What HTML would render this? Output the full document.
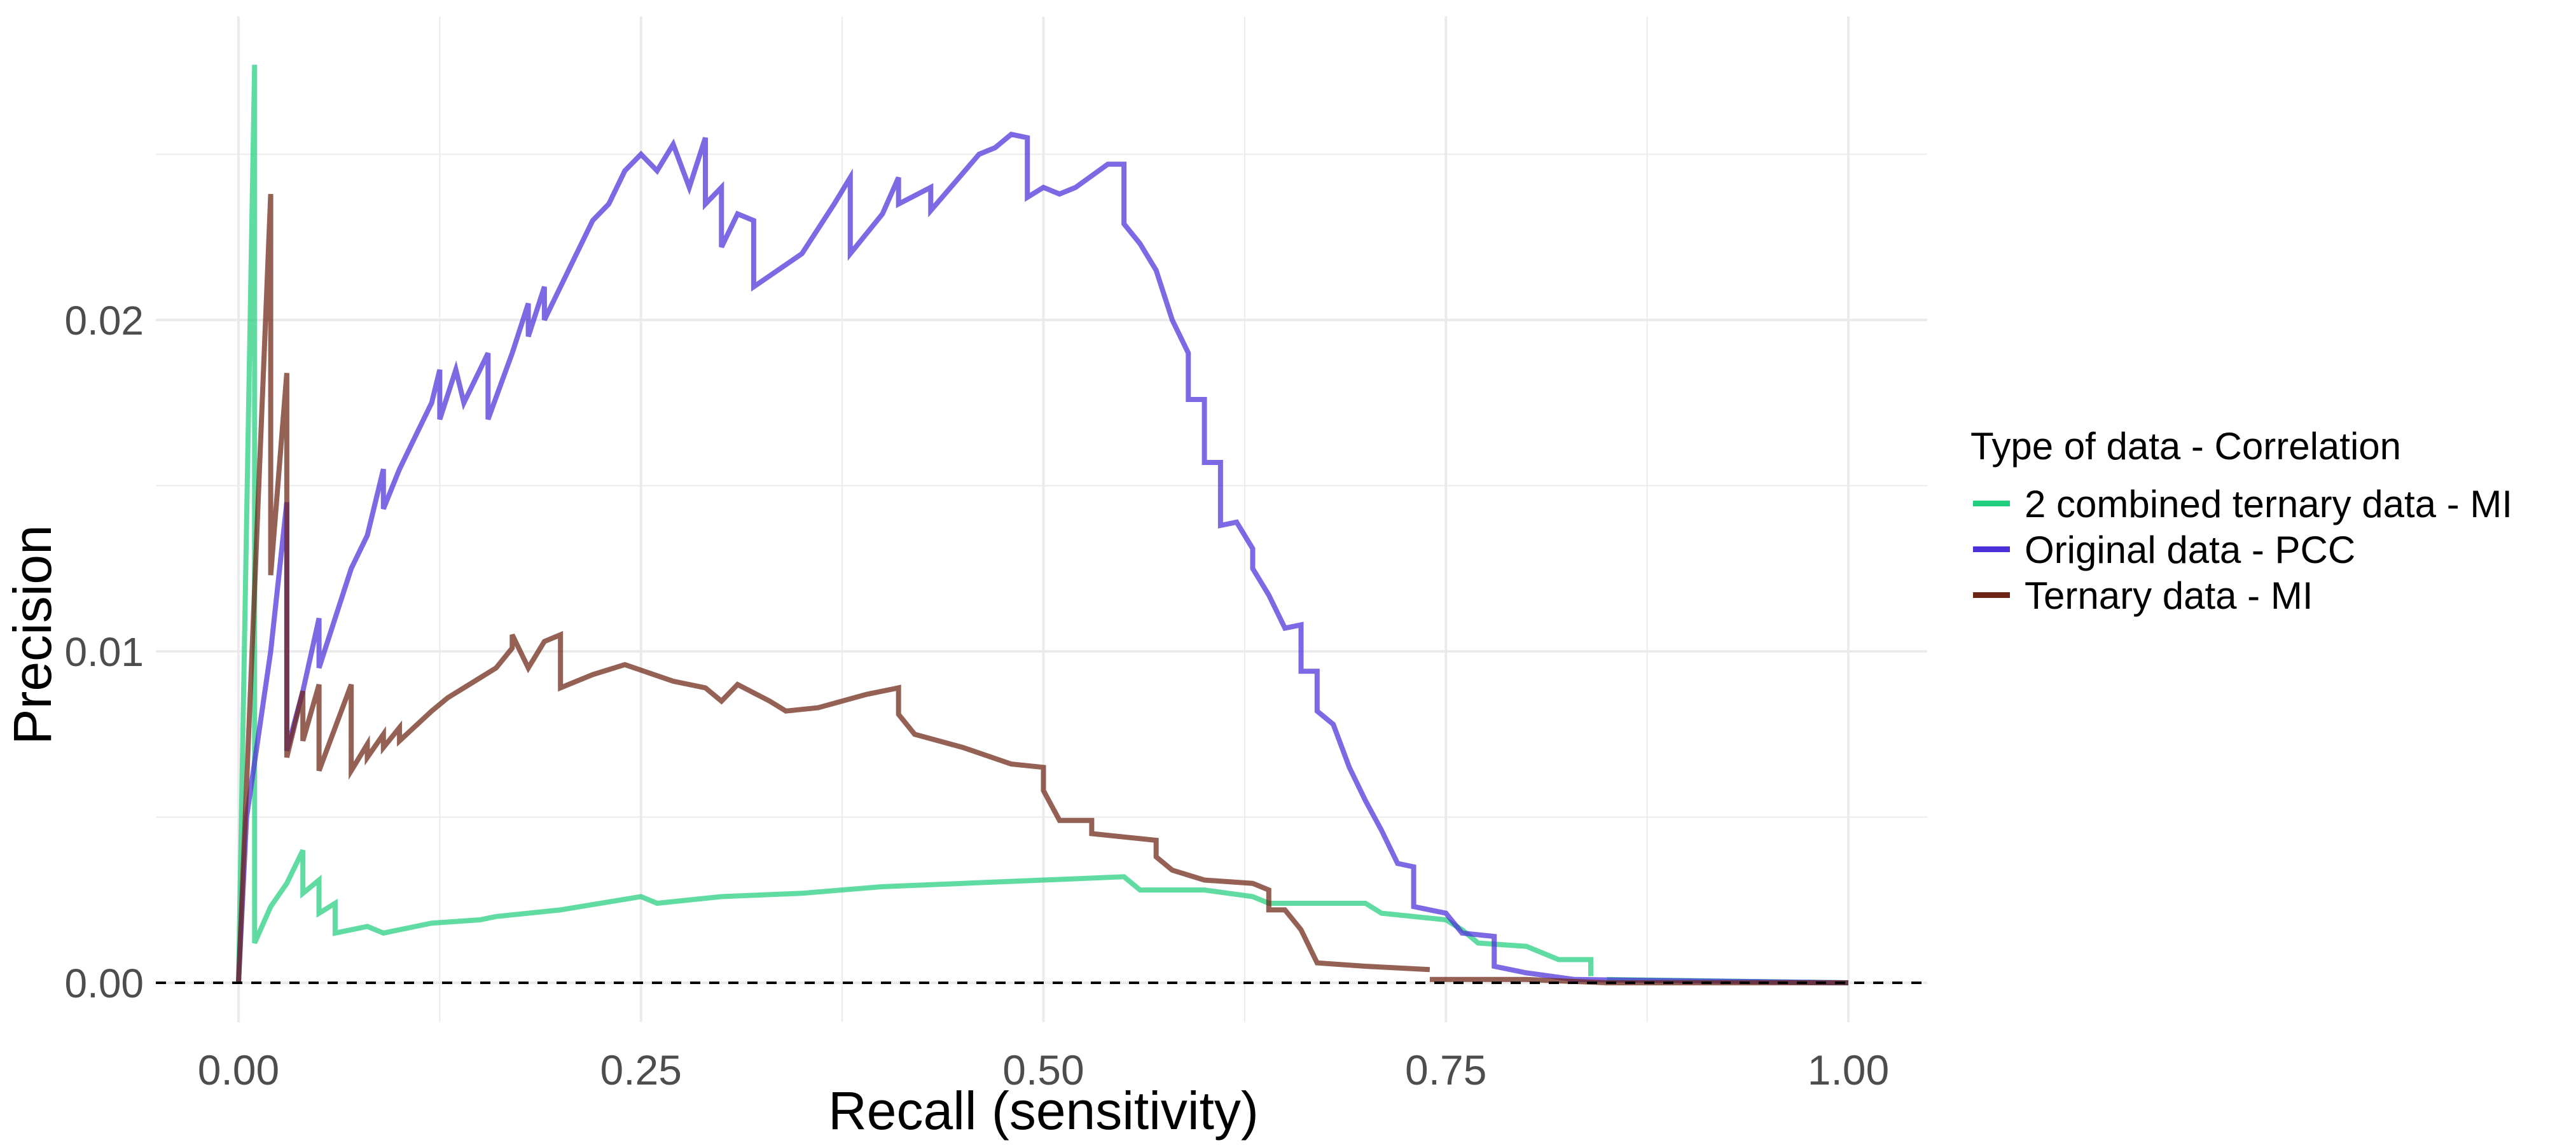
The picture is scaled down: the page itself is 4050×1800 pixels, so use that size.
<!DOCTYPE html>
<html><head><meta charset="utf-8"><style>
html,body{margin:0;padding:0;background:#fff}
svg{display:block;font-family:"Liberation Sans",sans-serif}
</style></head><body>
<svg id="chart" width="4050" height="1800" viewBox="0 0 4050 1800">
<g id="grid"></g>
<g id="series"></g>
<g id="axes"></g>
<g>
<text x="3098" y="722" font-size="60" fill="#000">Type of data - Correlation</text>
<rect x="3102" y="787" width="58" height="9" fill="#22cf7f"/>
<text x="3183" y="813" font-size="60" fill="#000">2 combined ternary data - MI</text>
<rect x="3102" y="859" width="58" height="9" fill="#4c2fd9"/>
<text x="3183" y="885" font-size="60" fill="#000">Original data - PCC</text>
<rect x="3102" y="931" width="58" height="9" fill="#6e2414"/>
<text x="3183" y="957" font-size="60" fill="#000">Ternary data - MI</text>
</g>
</svg>
<script>
const xTicks=[0,0.25,0.5,0.75,1];
const xTickLabels=["0.00","0.25","0.50","0.75","1.00"];
const yTicks=[0,0.01,0.02];
const yTickLabels=["0.00","0.01","0.02"];
const blueR=[0,0.005,0.02,0.03,0.03,0.04,0.05,0.05,0.06,0.07,0.08,0.09,0.09,0.1,0.11,0.12,0.125,0.125,0.135,0.14,0.15,0.155,0.155,0.17,0.18,0.18,0.19,0.19,0.21,0.22,0.23,0.24,0.25,0.26,0.27,0.28,0.29,0.29,0.30,0.30,0.31,0.32,0.32,0.35,0.37,0.38,0.38,0.40,0.41,0.41,0.43,0.43,0.46,0.47,0.48,0.49,0.49,0.50,0.51,0.52,0.54,0.55,0.55,0.56,0.57,0.58,0.59,0.59,0.60,0.60,0.61,0.61,0.62,0.63,0.63,0.64,0.65,0.66,0.66,0.67,0.67,0.68,0.69,0.70,0.71,0.72,0.73,0.73,0.75,0.76,0.78,0.78,0.80,0.83,1.0];
const blueP=[0,0.005,0.01,0.0145,0.007,0.0088,0.011,0.0095,0.011,0.0125,0.0135,0.0155,0.0143,0.0155,0.0165,0.0175,0.0185,0.017,0.0185,0.0175,0.0185,0.019,0.017,0.019,0.0205,0.0195,0.021,0.02,0.022,0.023,0.0235,0.0245,0.025,0.0245,0.0253,0.024,0.0255,0.0235,0.024,0.0222,0.0232,0.023,0.021,0.022,0.0235,0.0243,0.022,0.0232,0.0243,0.0235,0.024,0.0233,0.025,0.0252,0.0256,0.0255,0.0237,0.024,0.0238,0.024,0.0247,0.0247,0.0229,0.0223,0.0215,0.02,0.019,0.0176,0.0176,0.0157,0.0157,0.0138,0.0139,0.0131,0.0125,0.0117,0.0107,0.0108,0.0094,0.0094,0.0082,0.0078,0.0065,0.0055,0.0046,0.0036,0.0035,0.0023,0.0021,0.0015,0.0014,0.0005,0.0003,0.0001,0];
const brownR=[0,0.02,0.02,0.03,0.03,0.04,0.04,0.05,0.05,0.07,0.07,0.08,0.08,0.09,0.09,0.1,0.1,0.12,0.13,0.14,0.16,0.17,0.17,0.18,0.19,0.2,0.2,0.22,0.24,0.27,0.29,0.3,0.31,0.33,0.34,0.36,0.39,0.41,0.41,0.42,0.45,0.48,0.5,0.5,0.51,0.53,0.53,0.57,0.57,0.58,0.6,0.63,0.64,0.64,0.65,0.66,0.67,0.70,0.74,null,0.74,0.8,0.85,1.0];
const brownP=[0,0.0238,0.0123,0.0184,0.0068,0.0088,0.0073,0.009,0.0064,0.009,0.0064,0.0072,0.0068,0.0075,0.0071,0.0077,0.0073,0.0082,0.0086,0.0089,0.0095,0.0101,0.0105,0.0095,0.0103,0.0105,0.0089,0.0093,0.0096,0.0091,0.0089,0.0085,0.009,0.0085,0.0082,0.0083,0.0087,0.0089,0.0081,0.0075,0.0071,0.0066,0.0065,0.0058,0.0049,0.0049,0.0045,0.0043,0.0038,0.0034,0.0031,0.003,0.0028,0.0022,0.0022,0.0016,0.0006,0.0005,0.0004,null,0.0001,0.0001,0,0];
const greenR=[0,0.01,0.01,0.02,0.03,0.04,0.04,0.05,0.05,0.06,0.06,0.08,0.09,0.12,0.15,0.16,0.2,0.25,0.26,0.3,0.35,0.4,0.45,0.5,0.55,0.56,0.6,0.63,0.64,0.7,0.71,0.75,0.76,0.77,0.8,0.82,0.84,0.84,null,0.85,1.0];
const greenP=[0,0.0277,0.0012,0.0023,0.003,0.004,0.0027,0.0031,0.0021,0.0024,0.0015,0.0017,0.0015,0.0018,0.0019,0.002,0.0022,0.0026,0.0024,0.0026,0.0027,0.0029,0.003,0.0031,0.0032,0.0028,0.0028,0.0026,0.0024,0.0024,0.0021,0.0019,0.0016,0.0012,0.0011,0.0007,0.0007,0.0002,null,0.0001,0];
const NS='http://www.w3.org/2000/svg';
const L=245,R=3030,T=26,B=1607;
const X=r=>375+r*(2906-375);
const Y=p=>1545-p*52100;
function mk(tag,attrs,parent){const e=document.createElementNS(NS,tag);for(const k in attrs)e.setAttribute(k,attrs[k]);parent.appendChild(e);return e;}
const grid=document.getElementById('grid'),axes=document.getElementById('axes'),series=document.getElementById('series');
for(let v=0;v<=1.0001;v+=0.125){const major=Math.abs(v*4-Math.round(v*4))<1e-6;
 const g=mk('line',{x1:X(v),x2:X(v),y1:T,y2:B,stroke:'#ebebeb','stroke-width':major?4:2},grid);
 
 }
for(let v=-0.0;v<=0.0251;v+=0.005){const major=Math.abs(v*100-Math.round(v*100))<1e-6;
 const g=mk('line',{x1:L,x2:R,y1:Y(v),y2:Y(v),stroke:'#ebebeb','stroke-width':major?4:2},grid);
 
 }
xTicks.forEach((v,i)=>{const t=mk('text',{x:X(v),y:1705,'font-size':66,fill:'#4d4d4d','text-anchor':'middle'},axes);t.textContent=xTickLabels[i];
 
 });
yTicks.forEach((v,i)=>{const t=mk('text',{x:226,y:Y(v)+23,'font-size':64,fill:'#4d4d4d','text-anchor':'end'},axes);t.textContent=yTickLabels[i];
 
 });
const xt=mk('text',{x:X(0.5),y:1775,'font-size':84,fill:'#000','text-anchor':'middle'},axes);xt.textContent='Recall (sensitivity)';


const yt=mk('text',{x:0,y:0,'font-size':84,fill:'#000','text-anchor':'middle',transform:'translate(80,'+Y(0.0105)+') rotate(-90)'},axes);yt.textContent='Precision';


function pathOf(rs,ps){let d='',m=true;for(let i=0;i<rs.length;i++){if(rs[i]===null){m=true;continue;}d+=(m?'M':'L')+X(rs[i]).toFixed(1)+','+Y(ps[i]).toFixed(1);m=false;}return d;}
[[greenR,greenP,'#22cf7f','line-combined-ternary-mi'],[blueR,blueP,'#4c2fd9','line-original-pcc'],[brownR,brownP,'#6e2414','line-ternary-mi']].forEach(s=>{
 const p=mk('path',{d:pathOf(s[0],s[1]),fill:'none',stroke:s[2],'stroke-width':8,'stroke-opacity':0.72,'stroke-linejoin':'miter'},series);
 
 });
const z=mk('line',{x1:L,x2:R,y1:Y(0),y2:Y(0),stroke:'#000','stroke-width':4,'stroke-dasharray':'16,14'},axes);


</script>
</body></html>
